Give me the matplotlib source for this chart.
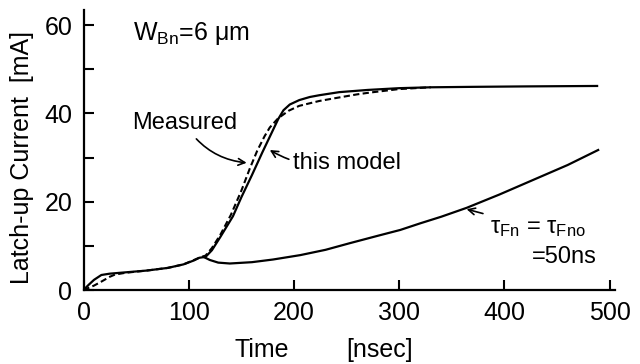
import matplotlib
matplotlib.use("Agg")
import matplotlib.pyplot as plt

# -------------------------------
# DATA
# -------------------------------

# this model (solid)
t_model = [0, 5, 10, 17, 25, 40, 60, 80, 95, 105, 110, 116, 122, 130, 142,
           150, 160, 170, 180, 185, 190, 196, 205, 215, 224, 243, 270, 300,
           330, 370, 420, 488]
i_model = [0, 1.2, 2.3, 3.4, 3.7, 4.0, 4.4, 5.0, 5.8, 6.7, 7.3, 7.5, 9.0,
           12.0, 16.7, 21.0, 26.0, 31.2, 36.2, 38.7, 40.7, 42.0, 43.0, 43.7,
           44.1, 44.8, 45.3, 45.7, 45.9, 46.0, 46.1, 46.2]

# measured (dashed)
t_meas = [0, 5, 10, 17, 25, 30, 40, 60, 80, 95, 105, 110, 116, 122, 130,
          140, 150, 158, 165, 172, 177, 185, 195, 205, 224, 243, 260, 272,
          300, 330]
i_meas = [0, 0.5, 1.0, 1.9, 3.0, 3.5, 3.9, 4.4, 5.0, 5.8, 6.8, 7.3, 7.8,
          9.5, 12.5, 17.0, 22.5, 27.5, 31.5, 34.8, 36.8, 38.9, 40.6, 41.7,
          42.8, 43.6, 44.3, 44.7, 45.5, 45.9]

# tau_Fn = tau_Fno = 50 ns branch
t_tau = [114, 120, 128, 139, 160, 180, 206, 230, 253, 280, 301, 320, 340,
         364, 395, 427, 460, 489]
i_tau = [7.5, 6.8, 6.2, 6.0, 6.3, 6.9, 7.9, 9.1, 10.6, 12.3, 13.6, 15.1,
         16.6, 18.6, 21.6, 24.9, 28.3, 31.7]

x_ticks = [0, 100, 200, 300, 400, 500]
y_ticks = [0, 20, 40, 60]
y_minor = [10, 30, 50]

# -------------------------------
# STYLE
# -------------------------------

plt.rcParams["font.family"] = ["Liberation Sans", "DejaVu Sans"]
plt.rcParams["mathtext.fontset"] = "custom"
plt.rcParams["mathtext.rm"] = "Liberation Sans"
plt.rcParams["mathtext.it"] = "Liberation Sans"
plt.rcParams["mathtext.bf"] = "Liberation Sans"
fs = 18     # tick labels / axis labels
fs_t = 17   # annotations

fig = plt.figure(figsize=(6.4, 3.64), dpi=100)
ax = fig.add_axes([83.5 / 640, 74 / 364, (615 - 83.5) / 640, 280 / 364])

ax.plot(t_model, i_model, color="black", lw=1.6)
ax.plot(t_meas, i_meas, color="black", lw=1.5, dashes=(3, 1.6))
ax.plot(t_tau, i_tau, color="black", lw=1.6)

ax.set_xlim(0, 505)
ax.set_ylim(0, 63.4)

for s in ["top", "right"]:
    ax.spines[s].set_visible(False)
for s in ["left", "bottom"]:
    ax.spines[s].set_linewidth(1.6)

ax.set_xticks(x_ticks)
ax.set_yticks(y_ticks)
ax.set_yticks(y_minor, minor=True)
ax.tick_params(which="both", direction="in", length=7, width=1.5,
               labelsize=fs, pad=8)

# -------------------------------
# LABELS & ANNOTATIONS
# -------------------------------

fig.text(22 / 640, 1 - 158 / 364, "Latch-up Current  [mA]", rotation=90,
         ha="center", va="center", fontsize=fs)
fig.text(262 / 640, 1 - 350 / 364, "Time", ha="center", va="center",
         fontsize=fs)
fig.text(380 / 640, 1 - 350 / 364, "[nsec]", ha="center", va="center",
         fontsize=fs)

ax.text(47, 58.0, r"$\mathrm{W_{Bn}}$=6 μm", ha="left", va="center",
        fontsize=fs)

arrow = dict(arrowstyle="->", color="black", lw=1.2,
             shrinkB=0, mutation_scale=12)

ax.annotate("Measured", xy=(155, 28.8), xytext=(46, 37.8),
            ha="left", va="center", fontsize=fs_t,
            arrowprops=dict(arrow, connectionstyle="arc3,rad=0.25",
                            shrinkA=2),
            annotation_clip=False)
ax.annotate("this model", xy=(177, 31.7), xytext=(199, 28.8),
            ha="left", va="center", fontsize=fs_t,
            arrowprops=dict(arrow, connectionstyle="arc3,rad=-0.2",
                            shrinkA=1))
ax.annotate(r"$\mathrm{τ_{Fn}}$ = $\mathrm{τ_{Fno}}$", xy=(364, 18.3),
            xytext=(386, 14.0), ha="left", va="center", fontsize=fs_t,
            arrowprops=dict(arrow, shrinkA=3))
ax.text(426, 7.5, "=50ns", ha="left", va="center", fontsize=fs_t)

fig.savefig("out.png", dpi=100)
